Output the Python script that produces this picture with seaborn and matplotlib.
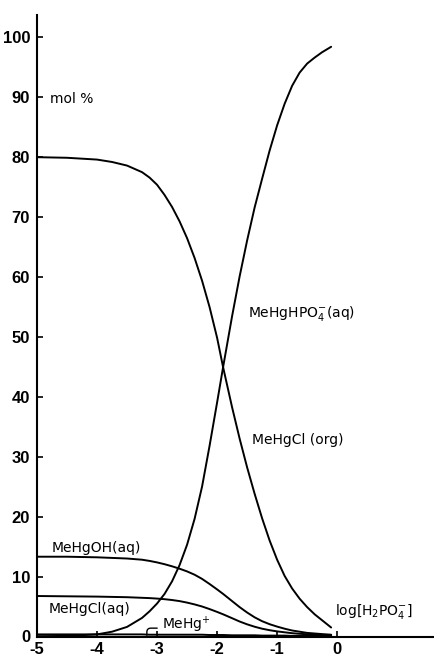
import numpy as np
import pandas as pd
import matplotlib
matplotlib.use('Agg')
import matplotlib.pyplot as plt
import seaborn as sns

# log[H2PO4-] grid the curves were read at
log_h2po4 = [-5.0, -4.5, -4.0, -3.75, -3.5, -3.25, -3.125, -3.0, -2.875, -2.75, -2.625,
             -2.5, -2.375, -2.25, -2.125, -2.0, -1.9, -1.75, -1.625, -1.5, -1.375,
             -1.25, -1.125, -1.0, -0.875, -0.75, -0.625, -0.5, -0.375, -0.25, -0.1]

# mol % of each species
mehgcl_org = [79.9, 79.8, 79.5, 79.1, 78.5, 77.4, 76.5, 75.3, 73.6, 71.6, 69.2,
              66.4, 63.1, 59.3, 54.9, 49.8, 44.9, 38.2, 33.0, 28.2, 23.8,
              19.7, 16.0, 12.8, 10.1, 8.0, 6.3, 4.9, 3.7, 2.7, 1.5]
mehghpo4_aq = [0.05, 0.1, 0.35, 0.8, 1.6, 3.1, 4.2, 5.5, 7.1, 9.2, 11.9,
               15.3, 19.6, 25.0, 31.8, 39.0, 44.9, 53.4, 60.0, 66.0, 71.5,
               76.3, 81.0, 85.2, 88.8, 91.8, 94.0, 95.5, 96.5, 97.4, 98.3]
mehgoh_aq = [13.3, 13.3, 13.2, 13.1, 13.0, 12.8, 12.6, 12.35, 12.05, 11.7, 11.3,
             10.85, 10.3, 9.6, 8.75, 7.85, 7.1, 5.9, 4.9, 4.0, 3.2,
             2.55, 2.05, 1.65, 1.3, 1.0, 0.8, 0.6, 0.5, 0.4, 0.3]
mehgcl_aq = [6.75, 6.7, 6.65, 6.6, 6.55, 6.45, 6.4, 6.32, 6.22, 6.08, 5.9,
             5.65, 5.35, 5.0, 4.57, 4.1, 3.7, 3.05, 2.5, 2.03, 1.63,
             1.3, 1.05, 0.85, 0.7, 0.55, 0.45, 0.38, 0.3, 0.25, 0.2]
mehg_plus = [0.35, 0.35, 0.35, 0.35, 0.35, 0.35, 0.3, 0.3, 0.3, 0.3, 0.3,
             0.3, 0.3, 0.3, 0.25, 0.25, 0.25, 0.2, 0.2, 0.2, 0.2,
             0.15, 0.15, 0.15, 0.15, 0.1, 0.1, 0.1, 0.1, 0.1, 0.1]

x_ticks = [-5, -4, -3, -2, -1, 0]
x_tick_labels = ['-5', '-4', '-3', '-2', '-1', '0']
y_ticks = [0, 10, 20, 30, 40, 50, 60, 70, 80, 90, 100]
y_tick_labels = [str(v) for v in y_ticks]

series = {
    'MeHgCl(org)': mehgcl_org,
    'MeHgHPO4-(aq)': mehghpo4_aq,
    'MeHgOH(aq)': mehgoh_aq,
    'MeHgCl(aq)': mehgcl_aq,
    'MeHg+': mehg_plus,
}

sns.set_style('ticks')
plt.rcParams['font.family'] = ['DejaVu Sans']
plt.rcParams['text.color'] = 'black'
plt.rcParams['axes.edgecolor'] = 'black'
plt.rcParams['xtick.color'] = 'black'
plt.rcParams['ytick.color'] = 'black'

fig = plt.figure(figsize=(4.35, 6.56), dpi=100)
ax = fig.add_axes([37 / 435, 19.5 / 656, 1 - 37 / 435, (636.5 - 15) / 656])

for name, vals in series.items():
    df = pd.DataFrame({'x': log_h2po4, 'y': vals})
    sns.lineplot(data=df, x='x', y='y', color='black', linewidth=1.4, ax=ax,
                 estimator=None, sort=False)

ax.set_xlim(-5, 1.63)
ax.set_ylim(0, 103.6)
ax.set_xlabel('')
ax.set_ylabel('')
sns.despine(ax=ax)
for side in ['left', 'bottom']:
    ax.spines[side].set_linewidth(1.5)

tick_font = dict(family=['Liberation Sans', 'DejaVu Sans'], weight='bold', size=12)
ax.set_xticks(x_ticks)
ax.set_xticklabels(x_tick_labels, fontdict=tick_font)
ax.set_yticks(y_ticks)
ax.set_yticklabels(y_tick_labels, fontdict=tick_font)
ax.tick_params(direction='in', length=4, width=1.2, pad=4)
ax.tick_params(axis='y', pad=5)

# curve labels
lab = dict(fontsize=10, color='black', va='center', ha='left')
ax.text(-4.78, 89.6, 'mol %', **lab)
ax.text(-1.48, 53.9, r'MeHgHPO$_4^{-}$(aq)', **lab)
ax.text(-1.42, 32.75, 'MeHgCl (org)', **lab)
ax.text(-4.75, 14.7, 'MeHgOH(aq)', **lab)
ax.text(-4.8, 4.6, 'MeHgCl(aq)', **lab)
ax.text(-0.03, 4.1, r'log[H$_2$PO$_4^{-}$]', **lab)
ax.annotate(r'MeHg$^{+}$', xy=(-3.17, 0.2), xytext=(-2.92, 1.9), fontsize=10,
            va='center', ha='left',
            arrowprops=dict(arrowstyle='-', color='black', lw=1.0, relpos=(0, 0.35),
                            shrinkA=1, shrinkB=0,
                            connectionstyle='angle,angleA=0,angleB=90,rad=4'))

fig.savefig('out.png', dpi=100)
